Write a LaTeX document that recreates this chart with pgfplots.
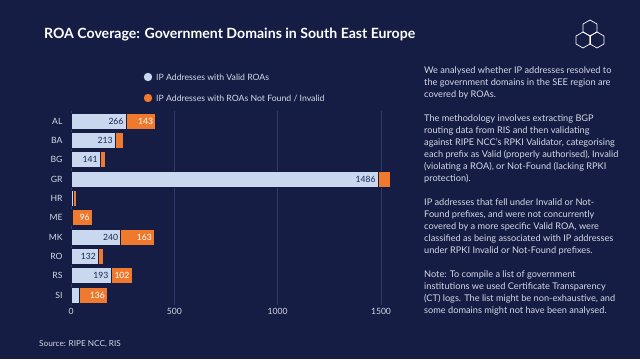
\documentclass[border=0pt]{standalone}
\usepackage{pgfplots}
\pgfplotsset{compat=1.18}
\usepackage{pgfplotstable}
\usepackage{fontspec}
\setmainfont{Lato}
\definecolor{bg}{HTML}{151D45}
\definecolor{lightbar}{HTML}{C9D8EE}
\definecolor{orangebar}{HTML}{EF7A2E}
\definecolor{gridc}{HTML}{2F396A}
\definecolor{ticktxt}{HTML}{D5D9E6}
\definecolor{darktxt}{HTML}{1B2450}

\pgfplotstableread{
y cat valid invalid
0 AL 266 143
1 BA 213 40
2 BG 141 23
3 GR 1486 60
4 HR 9 18
5 ME 6 96
6 MK 240 163
7 RO 132 24
8 RS 193 102
9 SI 40 136
}\roadata

\begin{document}
\begin{tikzpicture}
\fill[bg] (0pt,0pt) rectangle (640pt,359pt);
% title
\node[anchor=west, text=white, inner sep=0pt, font=\bfseries\fontsize{14.1}{16}\selectfont] at (44pt,324pt) {ROA Coverage: Government Domains in South East Europe};
% logo
\begin{scope}[draw=white, line width=0.7pt]
\foreach \cx/\cy in {590/331, 583/319, 597/319}{
  \draw (\cx pt,\cy pt) ++(90:8pt) -- ++(-30:8pt) -- ++(-90:8pt) -- ++(-150:8pt) -- ++(150:8pt) -- ++(90:8pt) -- cycle;
}
\draw (590pt,323pt) -- (590pt,315pt);
\end{scope}
% legend
\fill[lightbar] (148pt,282pt) circle (4.2pt);
\node[anchor=west, text=ticktxt, inner sep=0pt, font=\fontsize{8.7}{10}\selectfont] at (156pt,282pt) {IP Addresses with Valid ROAs};
\fill[orangebar] (148pt,261pt) circle (4.2pt);
\node[anchor=west, text=ticktxt, inner sep=0pt, font=\fontsize{8.7}{10}\selectfont] at (156pt,261pt) {IP Addresses with ROAs Not Found / Invalid};
% source
\node[anchor=west, text=ticktxt, inner sep=0pt, font=\fontsize{8.2}{9}\selectfont] at (39pt,15pt) {Source: RIPE NCC, RIS};
% right text
\node[anchor=north west, text=ticktxt, inner sep=0pt, align=left, font=\fontsize{9.2}{12}\selectfont] at (424pt,292pt) {%
We analysed whether IP addresses resolved to\\
the government domains in the SEE region are\\
covered by ROAs.\\[12pt]
The methodology involves extracting BGP\\
routing data from RIS and then validating\\
against RIPE NCC's RPKI Validator, categorising\\
each prefix as Valid (properly authorised), Invalid\\
(violating a ROA), or Not-Found (lacking RPKI\\
protection).\\[12pt]
IP addresses that fell under Invalid or Not-\\
Found prefixes, and were not concurrently\\
covered by a more specific Valid ROA, were\\
classified as being associated with IP addresses\\
under RPKI Invalid or Not-Found prefixes.\\[12pt]
Note: To compile a list of government\\
institutions we used Certificate Transparency\\
(CT) logs. The list might be non-exhaustive, and\\
some domains might not have been analysed.};
\begin{axis}[
  at={(71pt,54.3pt)}, anchor=south west, scale only axis,
  width=322.4pt, height=193.3pt,
  xbar, bar width=16pt, bar shift=0pt,
  xmin=0, xmax=1560, ymin=-0.5, ymax=9.5, y dir=reverse,
  ytick={0,...,9}, yticklabels={AL,BA,BG,GR,HR,ME,MK,RO,RS,SI},
  xtick={0,500,1000,1500},
  axis line style={draw=none}, major tick length=0pt,
  xmajorgrids, grid style={gridc, line width=0.6pt},
  tick label style={text=ticktxt, font=\fontsize{8.6}{10}\selectfont},
  yticklabel style={xshift=-5pt},
  /pgf/number format/assume math mode=true,
  /pgf/number format/1000 sep={},
  point meta=explicit symbolic,
  nodes near coords={\ifnum\pgfplotspointmeta<90 \else\pgfplotspointmeta\fi},
  every node near coord/.append style={anchor=east, inner sep=1pt, xshift=-1.2pt, font=\fontsize{8.6}{10}\selectfont},
]
% full bar (valid + not found/invalid), orange part visible beyond the valid bar
\addplot[fill=orangebar, draw=bg, line width=0.6pt, every node near coord/.append style={text=white}] table[x expr=\thisrow{valid}+\thisrow{invalid}, y=y, meta=invalid] {\roadata};
\addplot[fill=lightbar, draw=bg, line width=0.6pt, every node near coord/.append style={text=darktxt}] table[x=valid, y=y, meta=valid] {\roadata};
\end{axis}
\end{tikzpicture}
\end{document}
